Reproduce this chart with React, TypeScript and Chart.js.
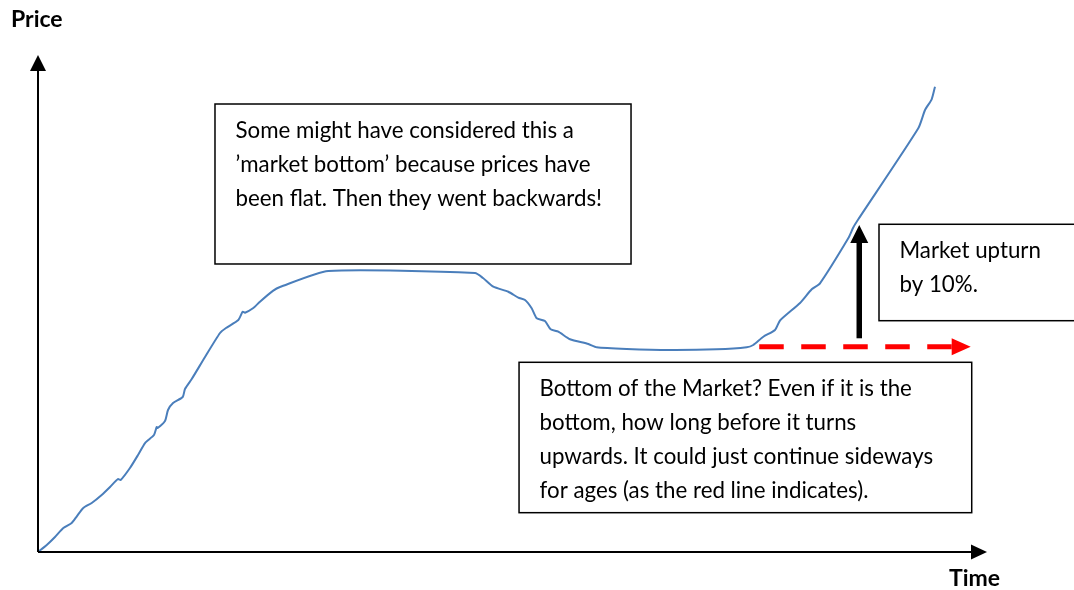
import React, { useEffect, useRef } from "react";
import { Chart, registerables } from "chart.js";

Chart.register(...registerables);

// Time (0 = origin, 100 = tip of the time-axis arrow)
const time = [
  0, 0.92, 1.79, 2.67, 3.55, 4.11, 4.77, 5.66, 6.71, 7.59, 8.43, 8.71, 9.69, 10.54,
  11.28, 12.22, 12.51, 12.61, 13.38, 13.7, 14.23, 15.25, 15.49, 16.2, 17.6, 19.18,
  19.81, 21.11, 21.57, 21.81, 22.69, 23.39, 24.79, 25.5, 30.59, 46.05, 46.89, 47.98,
  49.56, 50.61, 51.32, 52.02, 52.55, 53.42, 54.02, 54.83, 56.06, 57.99, 58.87, 62.03,
  66.6, 71.52, 74.68, 75.37, 76.43, 77.66, 78.19, 80.3, 81.53, 82.4, 85.38, 85.91,
  86.44, 92.76, 93.47, 94.17, 94.52,
];
// Price (0 = origin, 100 = tip of the price-axis arrow)
const price = [
  0, 1.41, 3.02, 4.83, 5.84, 7.24, 8.85, 9.86, 11.47, 13.08, 14.69, 14.49, 16.9, 19.52,
  21.93, 23.54, 25.15, 24.95, 26.36, 28.57, 29.98, 31.19, 32.8, 34.81, 39.24, 44.06,
  45.07, 46.68, 48.35, 48.15, 49.09, 50.36, 52.58, 53.32, 56.54, 56.14, 55.13, 53.38,
  52.37, 51.17, 50.7, 49.03, 47.02, 46.48, 44.81, 44.33, 42.8, 41.85, 41.19, 40.85,
  40.64, 40.78, 41.19, 41.65, 43.32, 44.67, 46.58, 50.1, 52.86, 54.06, 63.12, 65.29,
  66.94, 85.25, 88.93, 91.09, 93.62,
];

const axisLabels = ["Price", "Time"];

const noteFlat = [
  "Some might have considered this a",
  "\u2019market bottom\u2019 because prices have",
  "been flat. Then they went backwards!",
];
const noteUpturn = ["Market upturn", "by 10%."];
const noteBottom = [
  "Bottom of the Market? Even if it is the",
  "bottom, how long before it turns",
  "upwards. It could just continue sideways",
  "for ages (as the red line indicates).",
];

// Annotation boxes in data units: [xMin, xMax, yTop, yBottom]
const boxes = [
  { area: [18.65, 62.49, 90.14, 57.95], lines: noteFlat },
  { area: [88.62, 112, 65.94, 46.54], lines: noteUpturn },
  { area: [50.69, 98.39, 38.17, 7.91], lines: noteBottom },
];
const upArrow = { x: 86.54, from: 43.0, to: 65.79 };
const sidewaysArrow = { y: 41.31, from: 76.0, to: 98.28 };

const FONT = "Lato, 'Open Sans', sans-serif";

const diagramPlugin = {
  id: "diagram",
  afterDatasetsDraw(chart: any) {
    const { ctx, chartArea, scales } = chart;
    const xs = scales.x;
    const ys = scales.y;
    const { left, right, top, bottom } = chartArea;
    ctx.save();

    // axes
    ctx.strokeStyle = "#000";
    ctx.fillStyle = "#000";
    ctx.lineWidth = 2;
    ctx.beginPath();
    ctx.moveTo(left, bottom);
    ctx.lineTo(left, top + 14);
    ctx.moveTo(left, bottom);
    ctx.lineTo(right - 14, bottom);
    ctx.stroke();
    ctx.beginPath();
    ctx.moveTo(left, top);
    ctx.lineTo(left - 8, top + 16);
    ctx.lineTo(left + 8, top + 16);
    ctx.closePath();
    ctx.fill();
    ctx.beginPath();
    ctx.moveTo(right, bottom);
    ctx.lineTo(right - 16, bottom - 7.5);
    ctx.lineTo(right - 16, bottom + 7.5);
    ctx.closePath();
    ctx.fill();

    // axis labels
    ctx.font = `bold 23px ${FONT}`;
    ctx.textBaseline = "middle";
    ctx.textAlign = "left";
    ctx.fillText(axisLabels[0], 11, 20);
    ctx.fillText(axisLabels[1], 949, 579);

    // boxes
    for (const b of boxes) {
      const x0 = xs.getPixelForValue(b.area[0]);
      const x1 = xs.getPixelForValue(b.area[1]);
      const y0 = ys.getPixelForValue(b.area[2]);
      const y1 = ys.getPixelForValue(b.area[3]);
      ctx.fillStyle = "#fff";
      ctx.fillRect(x0, y0, x1 - x0, y1 - y0);
      ctx.strokeStyle = "#000";
      ctx.lineWidth = 1.5;
      ctx.strokeRect(x0, y0, x1 - x0, y1 - y0);
      ctx.fillStyle = "#000";
      ctx.font = `22.3px ${FONT}`;
      ctx.textBaseline = "middle";
      b.lines.forEach((t: string, i: number) => {
        ctx.fillText(t, x0 + 20.5, y0 + 27 + i * 34);
      });
    }

    // red dashed sideways arrow
    const ry = ys.getPixelForValue(sidewaysArrow.y);
    const rx0 = xs.getPixelForValue(sidewaysArrow.from);
    const rx1 = xs.getPixelForValue(sidewaysArrow.to);
    ctx.strokeStyle = "#FF0000";
    ctx.fillStyle = "#FF0000";
    ctx.lineWidth = 5;
    ctx.setLineDash([24.5, 17.5]);
    ctx.beginPath();
    ctx.moveTo(rx0, ry);
    ctx.lineTo(rx1 - 18, ry);
    ctx.stroke();
    ctx.setLineDash([]);
    ctx.beginPath();
    ctx.moveTo(rx1, ry);
    ctx.lineTo(rx1 - 19, ry - 8.5);
    ctx.lineTo(rx1 - 19, ry + 8.5);
    ctx.closePath();
    ctx.fill();

    // black upturn arrow
    const ax = xs.getPixelForValue(upArrow.x);
    const ay0 = ys.getPixelForValue(upArrow.from);
    const ay1 = ys.getPixelForValue(upArrow.to);
    ctx.strokeStyle = "#000";
    ctx.fillStyle = "#000";
    ctx.lineWidth = 5.5;
    ctx.beginPath();
    ctx.moveTo(ax, ay0);
    ctx.lineTo(ax, ay1 + 16);
    ctx.stroke();
    ctx.beginPath();
    ctx.moveTo(ax, ay1);
    ctx.lineTo(ax - 9, ay1 + 18);
    ctx.lineTo(ax + 9, ay1 + 18);
    ctx.closePath();
    ctx.fill();

    ctx.restore();
  },
};

export default function App() {
  const ref = useRef<HTMLCanvasElement | null>(null);
  useEffect(() => {
    if (!ref.current) return;
    const data = time.map((t, i) => ({ x: t, y: price[i] }));
    const chart = new Chart(ref.current, {
      type: "line",
      data: {
        datasets: [
          {
            data,
            borderColor: "#4A7EBB",
            borderWidth: 2,
            pointRadius: 0,
            tension: 0.2,
            fill: false,
            clip: false as any,
          },
        ],
      },
      options: {
        animation: false,
        responsive: true,
        maintainAspectRatio: false,
        layout: { padding: { left: 38, top: 55, right: 87, bottom: 38 } },
        scales: {
          x: { type: "linear", min: 0, max: 100, display: false },
          y: { type: "linear", min: 0, max: 100, display: false },
        },
        plugins: { legend: { display: false }, tooltip: { enabled: false } },
        events: [],
      },
      plugins: [diagramPlugin],
    });
    return () => chart.destroy();
  }, []);
  return (
    <div style={{ position: "fixed", left: 0, top: 0, width: "100vw", height: "100vh", background: "#fff" }}>
      <canvas ref={ref} />
    </div>
  );
}
